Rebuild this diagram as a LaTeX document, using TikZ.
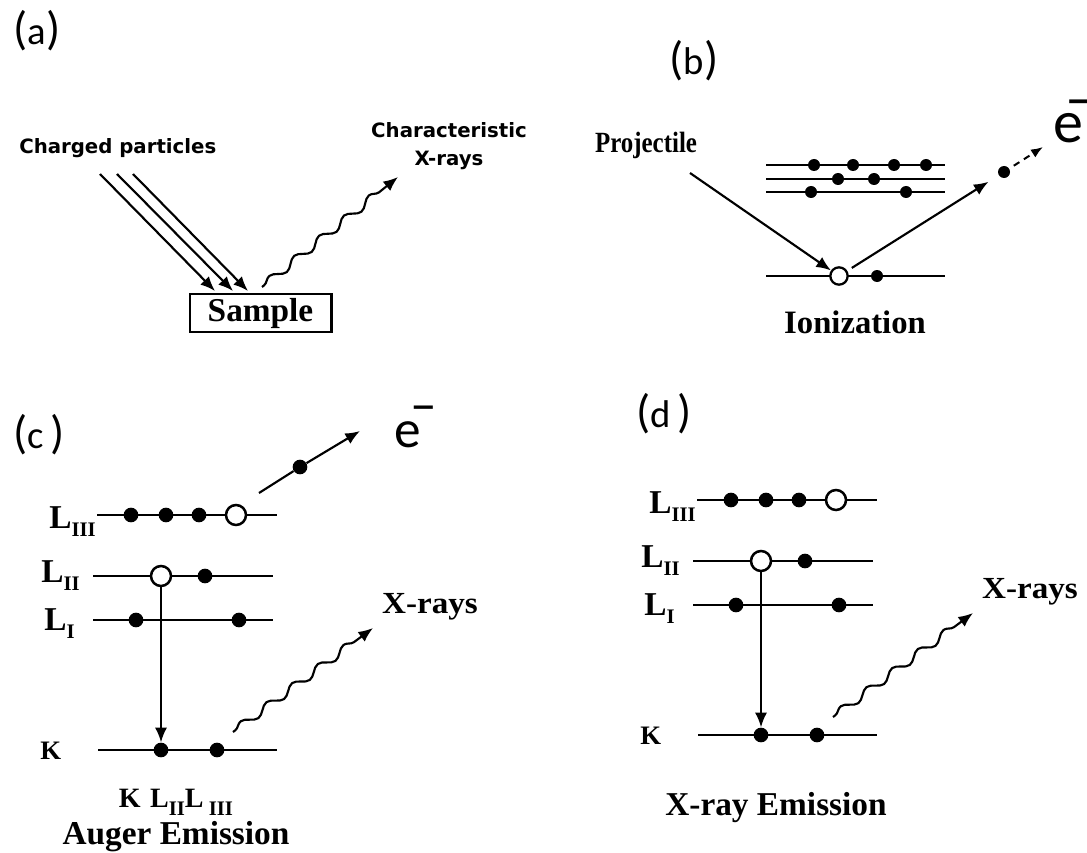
\documentclass[tikz,border=0pt]{standalone}
\usepackage{fontspec}
\setmainfont{Liberation Serif}
\newfontfamily\labfont{Carlito}
\newfontfamily\vfont{DejaVu Sans}
\usetikzlibrary{arrows.meta,decorations.pathmorphing}
\newcommand\myfs[1]{\fontsize{#1}{#1}\selectfont}
\newcommand\plab[1]{{\myfs{35}(}{\myfs{29}#1}{\myfs{35})}}
\newcommand\Lsub[1]{{\bfseries\myfs{25}L}\raisebox{-6.5pt}{\bfseries\myfs{15.5}#1}}
\newcommand\levelset[1]{%
  % level lines
  \draw[lvl] (97,515) -- (277,515);
  \draw[lvl] (93,576) -- (273,576);
  \draw[lvl] (93,620) -- (273,620);
  \draw[lvl] (98,750) -- (277,750);
  % L_III
  \node[dotc] (#1L3d1) at (131,515) {};
  \node[dotc] (#1L3d2) at (166,515) {};
  \node[dotc] (#1L3d3) at (199,515) {};
  \node[holec] (#1L3h) at (236,515) {};
  % L_II
  \node[holec] (#1L2h) at (161,576) {};
  \node[dotc] (#1L2d) at (205,576) {};
  % L_I
  \node[dotc] (#1L1d1) at (136,620) {};
  \node[dotc] (#1L1d2) at (239,620) {};
  % K
  \node[dotc] (#1K1) at (161,750) {};
  \node[dotc] (#1K2) at (217,750) {};
  % labels
  \node[anchor=base west] (#1labL3) at (49,528) {\Lsub{III}};
  \node[anchor=base west] (#1labL2) at (41,582) {\Lsub{II}};
  \node[anchor=base west] (#1labL1) at (44,630) {\Lsub{I}};
  \node[anchor=base west,font=\bfseries\myfs{20}] (#1labK) at (40,759) {K};
  % transition
  \draw[arr] (#1L2h) -- (#1K1);
  % x-ray photon
  \coordinate (#1ws) at (233,732);
  \coordinate (#1we) at (373,628);
  \draw[arr,wave] (#1ws) -- (#1we);
  \node[anchor=base,font=\bfseries\myfs{23}] (#1xr) at (430,613) {\scalebox{1.08}[1]{X-rays}};
}
\begin{document}
\begin{tikzpicture}[x=0.75pt,y=-0.75pt,inner sep=0pt,
  arr/.style={line width=1.6pt,-{Latex[length=11pt,width=9pt]}},
  lvl/.style={line width=1.9pt},
  lvlb/.style={line width=1.7pt},
  dotc/.style={circle,fill=black,inner sep=0pt,minimum size=11pt},
  holec/.style={circle,draw=black,fill=white,line width=1.9pt,inner sep=0pt,minimum size=15pt},
  dotb/.style={circle,fill=black,inner sep=0pt,minimum size=9pt},
  holeb/.style={circle,draw=black,fill=white,line width=1.7pt,inner sep=0pt,minimum size=13pt},
  wave/.style={decorate,decoration={snake,amplitude=3pt,segment length=24pt,pre length=2pt,post length=10pt}},
  panel/.style={font=\labfont}
]
\useasboundingbox (0,0) rectangle (1087,852);

% ---------------- (a)
\node[panel,anchor=base] (labA) at (37,45) {\plab{a}};
\node[anchor=base west,font=\vfont\bfseries\myfs{14.8}] (charged) at (19,154) {Charged particles};
\node[align=center,font=\vfont\bfseries\fontsize{14.8}{21}\selectfont] (charx) at (449,146) {Characteristic\\X-rays};
\node[draw,line width=2pt,minimum width=106pt,minimum height=28.5pt,font=\bfseries\myfs{25}] (sample) at (260.5,313) {Sample};
\coordinate (p1s) at (100,174); \coordinate (p1e) at (215,291);
\coordinate (p2s) at (117,174); \coordinate (p2e) at (233,291);
\coordinate (p3s) at (133,174); \coordinate (p3e) at (248,291);
\draw[arr] (p1s) -- (p1e);
\draw[arr] (p2s) -- (p2e);
\draw[arr] (p3s) -- (p3e);
\coordinate (aws) at (262,287);
\coordinate (awe) at (398,177);
\draw[arr,wave] (aws) -- (awe);

% ---------------- (b)
\node[panel,anchor=base] (labB) at (694,75) {\plab{b}};
\draw[lvlb] (766,165) -- (945,165);
\draw[lvlb] (766,179) -- (945,179);
\draw[lvlb] (766,192) -- (945,192);
\draw[lvlb] (766,276) -- (945,276);
\node[dotb] (b1a) at (814,165) {};
\node[dotb] (b1b) at (853,165) {};
\node[dotb] (b1c) at (894,165) {};
\node[dotb] (b1d) at (926,165) {};
\node[dotb] (b2a) at (838,179) {};
\node[dotb] (b2b) at (874,179) {};
\node[dotb] (b3a) at (811,192) {};
\node[dotb] (b3b) at (906,192) {};
\node[holeb] (bhole) at (839,276) {};
\node[dotb] (bk) at (877,276) {};
\node[anchor=base,font=\bfseries\myfs{22}] (proj) at (646,153) {\scalebox{0.85}[1]{Projectile}};
\coordinate (pstart) at (690,173);
\draw[arr] (pstart) -- (bhole);
\node[dotb] (bedot) at (1004,172) {};
\draw[arr,shorten <=4pt,shorten >=9pt] (bhole) -- (bedot);
\coordinate (bend) at (1043,147);
\draw[line width=1.5pt,-{Latex[length=9pt,width=7pt]},dash pattern=on 5pt off 4pt,shorten <=4pt] (bedot) -- (bend);
\node[anchor=base west,font=\labfont\myfs{45}] (eb) at (1053,143) {e\kern-0.3em\raisebox{0.4em}{–}};
\node[anchor=base,font=\bfseries\myfs{24.5}] (ion) at (855,333) {Ionization};

% ---------------- (c)
\node[panel,anchor=base west] (labC) at (13,448) {\plab{c\hspace{5pt}}};
\begin{scope}
  \levelset{c}
\end{scope}
\coordinate (cas) at (259,493);
\node[dotc] (cadot) at (300,467) {};
\coordinate (cae) at (360,431);
\draw[arr] (cas) -- (cadot) -- (cae);
\node[anchor=base west,font=\labfont\myfs{40}] (ec) at (394,447) {e\kern-0.2em\raisebox{0.46em}{–}};
\node[anchor=base,font=\bfseries] (kll) at (176,807) {\myfs{21}K\hspace{7pt}L\raisebox{-6pt}{\myfs{15.5}II}L\hspace{4pt}\raisebox{-6pt}{\myfs{15.5}III}};
\node[anchor=base,font=\bfseries\myfs{25}] (auger) at (176,844) {Auger Emission};

% ---------------- (d)
\node[panel,anchor=base west] (labD) at (636,427) {\plab{d\hspace{5pt}}};
\begin{scope}[shift={(600,-15)}]
  \levelset{d}
\end{scope}
\node[anchor=base,font=\bfseries\myfs{25}] (xemis) at (776,815) {X-ray Emission};
\end{tikzpicture}
\end{document}
